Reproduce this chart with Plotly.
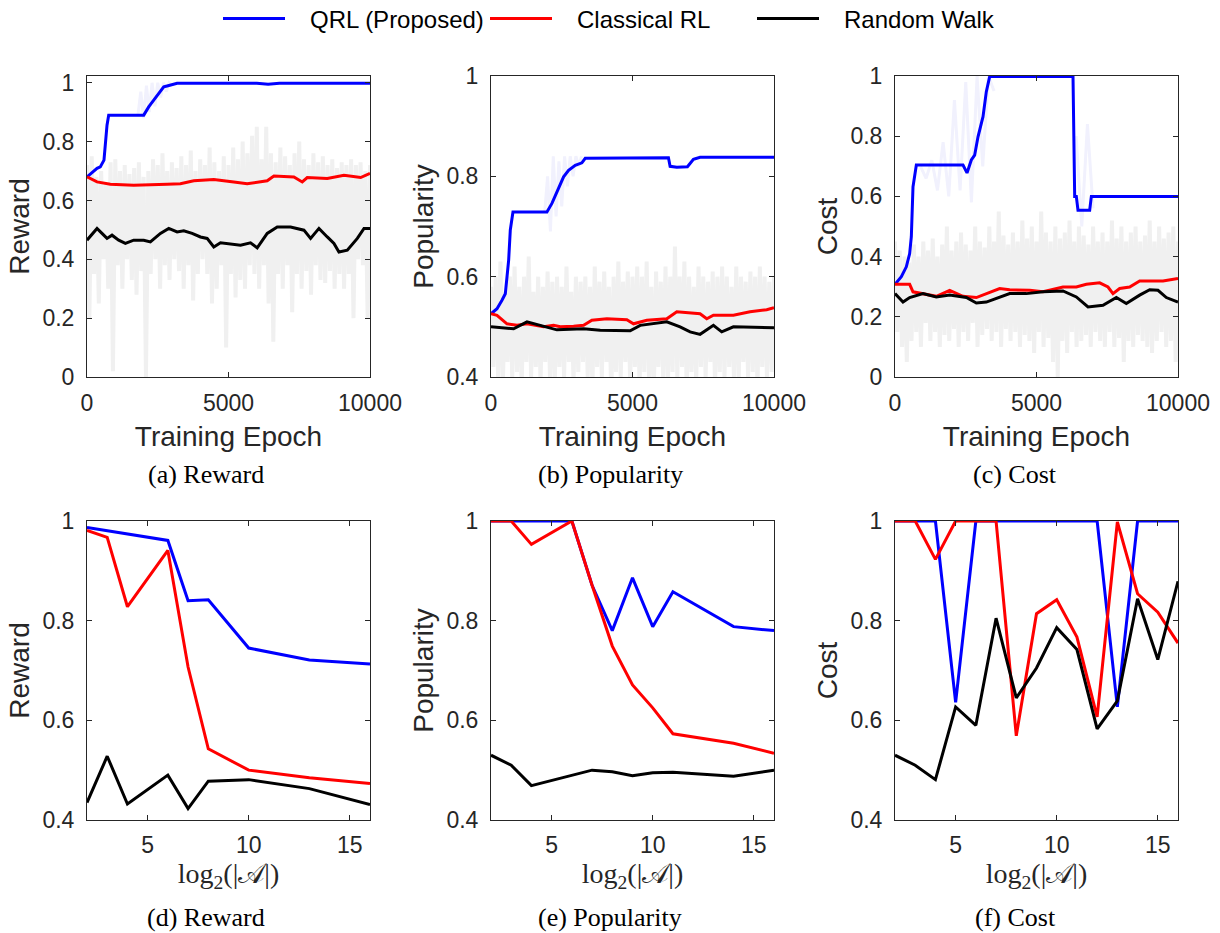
import numpy as np
import plotly.graph_objects as go
from plotly.subplots import make_subplots

W, H = 1220, 933
SERIES = ["QRL (Proposed)", "Classical RL", "Random Walk"]
COLORS = ["#0000ff", "#ff0000", "#000000"]

# ---------- top row: training curves (smoothed) ----------
a_qrl_x = [0, 354, 470, 600, 707, 766, 2005, 2180, 2358, 2535, 2712, 2830, 3066, 3184, 6000, 6400, 6800, 10000]
a_qrl_y = [0.68, 0.709, 0.714, 0.737, 0.856, 0.89, 0.89, 0.918, 0.941, 0.964, 0.986, 0.989, 0.995, 0.998, 0.998, 0.995, 0.998, 0.998]
a_crl_x = [0, 354, 825, 1650, 2830, 3300, 3774, 4481, 5189, 5660, 6368, 6604, 7311, 7606, 7783, 8490, 9080, 9670, 10000]
a_crl_y = [0.68, 0.663, 0.655, 0.652, 0.655, 0.657, 0.667, 0.671, 0.663, 0.657, 0.667, 0.683, 0.68, 0.663, 0.678, 0.675, 0.686, 0.678, 0.692]
a_rw_x = [0, 354, 530, 707, 884, 1120, 1356, 1650, 2005, 2240, 2594, 2889, 3184, 3420, 3715, 4009, 4245, 4481, 4717, 4953,
          5425, 5778, 6014, 6368, 6722, 7193, 7665, 7901, 8196, 8491, 8726, 8903, 9198, 9552, 9788, 10000]
a_rw_y = [0.465, 0.505, 0.488, 0.471, 0.482, 0.465, 0.454, 0.465, 0.465, 0.459, 0.488, 0.505, 0.493, 0.497, 0.488, 0.476, 0.471, 0.442, 0.456, 0.454,
          0.448, 0.456, 0.439, 0.488, 0.51, 0.51, 0.499, 0.471, 0.505, 0.476, 0.454, 0.425, 0.431, 0.471, 0.505, 0.505]

b_qrl_x = [0, 212, 388, 506, 624, 682, 776, 1976, 2153, 2329, 2565, 2741, 2976, 3212, 3329, 6270, 6329, 6565, 6941, 7153, 7388, 10000]
b_qrl_y = [0.526, 0.536, 0.553, 0.566, 0.633, 0.693, 0.729, 0.729, 0.746, 0.769, 0.799, 0.812, 0.822, 0.827, 0.836, 0.837, 0.82, 0.818, 0.819, 0.834, 0.838, 0.838]
b_crl_x = [0, 212, 565, 918, 1271, 1624, 1859, 2212, 2447, 2918, 3271, 3565, 4094, 4800, 5035, 5506, 6212, 6565, 7388, 7624, 7859, 8565, 9153, 9741, 10000]
b_crl_y = [0.526, 0.523, 0.506, 0.503, 0.506, 0.503, 0.5, 0.503, 0.5, 0.501, 0.503, 0.513, 0.516, 0.514, 0.506, 0.513, 0.516, 0.53, 0.526, 0.516, 0.523, 0.523, 0.53, 0.534, 0.538]
b_rw_x = [0, 800, 1271, 1741, 2329, 3271, 3859, 4918, 5271, 6212, 6682, 7035, 7388, 7859, 8153, 8565, 10000]
b_rw_y = [0.5, 0.496, 0.51, 0.503, 0.494, 0.496, 0.493, 0.492, 0.503, 0.51, 0.5, 0.49, 0.485, 0.503, 0.49, 0.5, 0.498]

c_qrl_x = [0, 224, 400, 518, 577, 636, 754, 2403, 2544, 2697, 2815, 2933, 3110, 3227, 3345, 6290, 6349, 6407, 6466, 6879, 6938, 10000]
c_qrl_y = [0.308, 0.333, 0.366, 0.41, 0.466, 0.632, 0.704, 0.704, 0.678, 0.721, 0.737, 0.798, 0.865, 0.948, 0.998, 0.998, 0.6, 0.6, 0.554, 0.554, 0.6, 0.6]
c_crl_x = [0, 518, 636, 989, 1460, 1932, 2403, 2874, 3227, 3698, 4052, 4759, 5230, 5936, 6407, 6761, 7232, 7526, 7703, 7939, 8292, 8645, 9470, 10000]
c_crl_y = [0.308, 0.308, 0.283, 0.277, 0.268, 0.288, 0.268, 0.264, 0.277, 0.294, 0.29, 0.288, 0.283, 0.299, 0.299, 0.308, 0.313, 0.299, 0.277, 0.294, 0.299, 0.319, 0.319, 0.327]
c_rw_x = [0, 283, 518, 989, 1460, 1932, 2521, 2874, 3227, 3580, 4052, 4641, 5230, 5936, 6407, 6820, 7350, 7821, 8174, 8645, 9000, 9293, 9588, 10000]
c_rw_y = [0.277, 0.249, 0.264, 0.277, 0.266, 0.272, 0.264, 0.246, 0.249, 0.261, 0.277, 0.277, 0.283, 0.286, 0.266, 0.233, 0.238, 0.264, 0.244, 0.272, 0.29, 0.288, 0.264, 0.249]

# raw (unsmoothed) per-epoch values, drawn as the light grey background
raw_epochs = list(np.linspace(0, 10000, 121))
a_raw = [0.72, 0.2, 0.75, 0.35, 0.68, 0.25, 0.7, 0.4, 0.66, 0.3,
         0.73, 0.02, 0.74, 0.38, 0.7, 0.3, 0.72, 0.4, 0.69, 0.33,
         0.71, 0.28, 0.73, 0.36, 0.68, 0.0, 0.7, 0.35, 0.74, 0.4,
         0.72, 0.3, 0.76, 0.38, 0.7, 0.33, 0.73, 0.4, 0.71, 0.36,
         0.75, 0.3, 0.72, 0.38, 0.77, 0.26, 0.7, 0.35, 0.74, 0.4,
         0.72, 0.35, 0.78, 0.25, 0.73, 0.3, 0.7, 0.38, 0.75, 0.1,
         0.72, 0.35, 0.78, 0.27, 0.74, 0.33, 0.8, 0.3, 0.76, 0.38,
         0.82, 0.35, 0.85, 0.3, 0.74, 0.38, 0.85, 0.25, 0.76, 0.12,
         0.73, 0.35, 0.78, 0.3, 0.75, 0.38, 0.72, 0.22, 0.76, 0.35,
         0.8, 0.3, 0.74, 0.36, 0.72, 0.28, 0.76, 0.38, 0.73, 0.33,
         0.75, 0.32, 0.72, 0.36, 0.74, 0.3, 0.71, 0.35, 0.73, 0.3,
         0.72, 0.35, 0.74, 0.2, 0.72, 0.4, 0.73, 0.38, 0.7, 0.2, 0.72]
b_raw = [0.58, 0.42, 0.6, 0.4, 0.63, 0.38, 0.57, 0.43, 0.6, 0.4,
         0.62, 0.41, 0.58, 0.38, 0.6, 0.43, 0.64, 0.4, 0.57, 0.42,
         0.6, 0.39, 0.58, 0.43, 0.61, 0.4, 0.59, 0.38, 0.6, 0.42,
         0.58, 0.4, 0.62, 0.43, 0.57, 0.39, 0.6, 0.41, 0.59, 0.43,
         0.6, 0.4, 0.58, 0.38, 0.62, 0.42, 0.59, 0.4, 0.61, 0.43,
         0.58, 0.36, 0.6, 0.41, 0.63, 0.4, 0.59, 0.43, 0.61, 0.39,
         0.6, 0.42, 0.62, 0.38, 0.6, 0.41, 0.63, 0.4, 0.58, 0.36,
         0.61, 0.42, 0.59, 0.4, 0.62, 0.38, 0.6, 0.41, 0.66, 0.4,
         0.6, 0.42, 0.63, 0.37, 0.6, 0.41, 0.58, 0.39, 0.62, 0.42,
         0.6, 0.4, 0.59, 0.43, 0.61, 0.38, 0.6, 0.41, 0.62, 0.4,
         0.6, 0.42, 0.58, 0.4, 0.62, 0.39, 0.6, 0.43, 0.59, 0.4,
         0.61, 0.41, 0.6, 0.38, 0.62, 0.42, 0.6, 0.4, 0.59, 0.41, 0.6]
c_raw = [0.45, 0.15, 0.42, 0.1, 0.4, 0.05, 0.38, 0.12, 0.44, 0.15,
         0.4, 0.1, 0.45, 0.18, 0.42, 0.12, 0.46, 0.15, 0.4, 0.1,
         0.44, 0.14, 0.5, 0.12, 0.42, 0.16, 0.45, 0.1, 0.48, 0.15,
         0.44, 0.12, 0.42, 0.18, 0.5, 0.1, 0.45, 0.14, 0.43, 0.16,
         0.5, 0.12, 0.45, 0.15, 0.55, 0.1, 0.47, 0.16, 0.44, 0.12,
         0.48, 0.15, 0.45, 0.1, 0.52, 0.14, 0.46, 0.12, 0.5, 0.08,
         0.45, 0.15, 0.55, 0.1, 0.48, 0.13, 0.45, 0.05, 0.5, 0.0,
         0.46, 0.12, 0.48, 0.08, 0.52, 0.15, 0.45, 0.1, 0.5, 0.12,
         0.47, 0.14, 0.44, 0.1, 0.5, 0.15, 0.45, 0.12, 0.48, 0.1,
         0.45, 0.15, 0.52, 0.1, 0.46, 0.13, 0.5, 0.05, 0.45, 0.12,
         0.48, 0.1, 0.5, 0.14, 0.45, 0.12, 0.47, 0.1, 0.52, 0.08,
         0.45, 0.12, 0.5, 0.15, 0.46, 0.1, 0.48, 0.12, 0.5, 0.05, 0.45]

# faint raw QRL values during its learning phases (None = gap between phases)
a_qrl_raw_x = [1800, 1900, 2000, 2100, 2200, 2300, 2400, 2500, 2600, 2700, 2800, 2900, 3000]
a_qrl_raw_y = [0.89, 0.97, 0.88, 0.99, 0.9, 1.0, 0.92, 1.0, 0.95, 1.0, 0.97, 1.0, 0.99]
b_qrl_raw_x = [1900, 2000, 2100, 2200, 2300, 2400, 2500, 2600, 2700, 2800, 2900, 3000, 3100, 3200]
b_qrl_raw_y = [0.73, 0.8, 0.69, 0.84, 0.72, 0.83, 0.74, 0.84, 0.78, 0.84, 0.8, 0.84, 0.82, 0.84]
c_qrl_raw_x = [900, 1100, 1300, 1500, 1700, 1900, 2100, 2300, 2500, 2700, 2900, 3100, 3300, 3500, 5000,
               6400, 6600, 6800, 7000]
c_qrl_raw_y = [0.7, 0.66, 0.72, 0.62, 0.78, 0.6, 0.92, 0.62, 0.98, 0.58, 1.0, 0.7, 1.0, 0.95, None,
               0.8, 0.5, 0.84, 0.56]

# ---------- bottom row: vs. log2(|A|) ----------
d_qrl_x = [2, 6, 7, 8, 10, 13, 16]
d_qrl_y = [0.987, 0.961, 0.84, 0.842, 0.745, 0.721, 0.713]
d_crl_x = [2, 3, 4, 6, 7, 8, 10, 13, 16]
d_crl_y = [0.981, 0.967, 0.828, 0.941, 0.707, 0.543, 0.5, 0.485, 0.473]
d_rw_x = [2, 3, 4, 6, 7, 8, 10, 13, 16]
d_rw_y = [0.435, 0.528, 0.432, 0.49, 0.423, 0.478, 0.481, 0.463, 0.431]

e_qrl_x = [2, 3, 4, 6, 7, 8, 9, 10, 11, 14, 16]
e_qrl_y = [1.0, 1.0, 1.0, 1.0, 0.871, 0.78, 0.886, 0.788, 0.858, 0.788, 0.78]
e_crl_x = [2, 3, 4, 6, 7, 8, 9, 10, 11, 14, 16]
e_crl_y = [1.0, 1.0, 0.953, 1.0, 0.871, 0.749, 0.671, 0.625, 0.573, 0.554, 0.534]
e_rw_x = [2, 3, 4, 7, 8, 9, 10, 11, 14, 16]
e_rw_y = [0.53, 0.51, 0.469, 0.5, 0.497, 0.489, 0.495, 0.496, 0.488, 0.5]

f_x = [2, 3, 4, 5, 6, 7, 8, 9, 10, 11, 12, 13, 14, 15, 16]
f_qrl_y = [1.0, 1.0, 1.0, 0.636, 1.0, 1.0, 1.0, 1.0, 1.0, 1.0, 1.0, 0.627, 1.0, 1.0, 1.0]
f_crl_y = [1.0, 1.0, 0.923, 1.0, 1.0, 1.0, 0.569, 0.814, 0.842, 0.767, 0.607, 0.998, 0.854, 0.817, 0.755]
f_rw_y = [0.53, 0.51, 0.481, 0.627, 0.59, 0.805, 0.645, 0.705, 0.786, 0.742, 0.583, 0.639, 0.844, 0.722, 0.879]

y_titles = ["Reward", "Popularity", "Cost", "Reward", "Popularity", "Cost"]
captions = ["(a) Reward", "(b) Popularity", "(c) Cost", "(d) Reward", "(e) Popularity", "(f) Cost"]
y_ranges = [[0, 1.023], [0.4, 1], [0, 1], [0.4, 1], [0.4, 1], [0.4, 1]]
y_ticks = [[0, 0.2, 0.4, 0.6, 0.8, 1], [0.4, 0.6, 0.8, 1], [0, 0.2, 0.4, 0.6, 0.8, 1],
           [0.4, 0.6, 0.8, 1], [0.4, 0.6, 0.8, 1], [0.4, 0.6, 0.8, 1]]
top_xticks = [0, 5000, 10000]
bottom_xticks = [5, 10, 15]

fig = make_subplots(rows=2, cols=3)

top = [
    (a_raw, (a_qrl_raw_x, a_qrl_raw_y), [(a_qrl_x, a_qrl_y), (a_crl_x, a_crl_y), (a_rw_x, a_rw_y)]),
    (b_raw, (b_qrl_raw_x, b_qrl_raw_y), [(b_qrl_x, b_qrl_y), (b_crl_x, b_crl_y), (b_rw_x, b_rw_y)]),
    (c_raw, (c_qrl_raw_x, c_qrl_raw_y), [(c_qrl_x, c_qrl_y), (c_crl_x, c_crl_y), (c_rw_x, c_rw_y)]),
]
for ci, (raw, qraw, lines) in enumerate(top):
    fig.add_trace(go.Scatter(x=raw_epochs, y=raw, mode="lines", line=dict(color="#f0f0f0", width=4),
                             showlegend=False, hoverinfo="skip"), row=1, col=ci + 1)
    fig.add_trace(go.Scatter(x=qraw[0], y=qraw[1], mode="lines", line=dict(color="#f1f1fd", width=3),
                             connectgaps=False, showlegend=False, hoverinfo="skip"), row=1, col=ci + 1)
    for si, (xs, ys) in enumerate(lines):
        fig.add_trace(go.Scatter(x=xs, y=ys, mode="lines", name="\u00a0\u00a0\u00a0" + SERIES[si],
                                 line=dict(color=COLORS[si], width=3),
                                 showlegend=(ci == 0), legendgroup=SERIES[si]), row=1, col=ci + 1)

bottom = [
    [(d_qrl_x, d_qrl_y), (d_crl_x, d_crl_y), (d_rw_x, d_rw_y)],
    [(e_qrl_x, e_qrl_y), (e_crl_x, e_crl_y), (e_rw_x, e_rw_y)],
    [(f_x, f_qrl_y), (f_x, f_crl_y), (f_x, f_rw_y)],
]
for ci, lines in enumerate(bottom):
    for si, (xs, ys) in enumerate(lines):
        fig.add_trace(go.Scatter(x=xs, y=ys, mode="lines", name=SERIES[si],
                                 line=dict(color=COLORS[si], width=3),
                                 showlegend=False, legendgroup=SERIES[si]), row=2, col=ci + 1)

col_px = [(87, 370), (491, 774), (895, 1178)]
row_px = [(76, 377), (521, 820)]
cap_x = [206, 610, 1015]
cap_y = [474, 917]
AX = "#262626"
tickfont = dict(family="Liberation Sans, Arial, sans-serif", size=23, color=AX)
titlefont = dict(family="Liberation Sans, Arial, sans-serif", size=28, color=AX)

for r in range(2):
    for c in range(3):
        idx = r * 3 + c
        xd = [col_px[c][0] / W, col_px[c][1] / W]
        yd = [1 - row_px[r][1] / H, 1 - row_px[r][0] / H]
        common = dict(showline=True, linecolor=AX, linewidth=1, mirror="ticks", ticks="inside",
                      ticklen=5, tickcolor=AX, showgrid=False, zeroline=False, tickfont=tickfont,
                      automargin=False)
        if r == 0:
            fig.update_xaxes(domain=xd, range=[0, 10000], tickvals=top_xticks,
                             ticktext=[str(v) for v in top_xticks], ticklabelstandoff=5,
                             title=dict(text="Training Epoch", font=titlefont, standoff=11),
                             **common, row=r + 1, col=c + 1)
        else:
            fig.update_xaxes(domain=xd, range=[2, 16], tickvals=bottom_xticks,
                             ticktext=[str(v) for v in bottom_xticks], ticklabelstandoff=4,
                             title=dict(text="log<sub>2</sub>(|𝒜|)",
                                        font=dict(family="Liberation Serif, DejaVu Serif, serif", size=28, color=AX),
                                        standoff=6),
                             **common, row=r + 1, col=c + 1)
        fig.update_yaxes(domain=yd, range=y_ranges[idx], tickvals=y_ticks[idx],
                         ticktext=[("%g" % v) for v in y_ticks[idx]], ticklabelstandoff=7,
                         title=dict(text=y_titles[idx], font=titlefont, standoff=4),
                         **common, row=r + 1, col=c + 1)
        fig.add_annotation(text=captions[idx], xref="paper", yref="paper",
                           x=cap_x[c] / W, y=1 - cap_y[r] / H, xanchor="center", yanchor="middle",
                           showarrow=False,
                           font=dict(family="Liberation Serif, DejaVu Serif, serif", size=26, color="#000000"))

fig.update_layout(
    width=W, height=H,
    margin=dict(l=0, r=0, t=0, b=0, autoexpand=False),
    paper_bgcolor="white", plot_bgcolor="white",
    legend=dict(orientation="h", xref="container", yref="container",
                x=218 / W, xanchor="left", y=1 - 19 / H, yanchor="middle",
                font=dict(family="Liberation Sans, Arial, sans-serif", size=24, color="#000000"),
                itemwidth=62, entrywidth=190, bgcolor="rgba(0,0,0,0)"),
)

fig.write_html("out.html", config={"displayModeBar": False},
               post_script="document.body.style.margin='0';")
